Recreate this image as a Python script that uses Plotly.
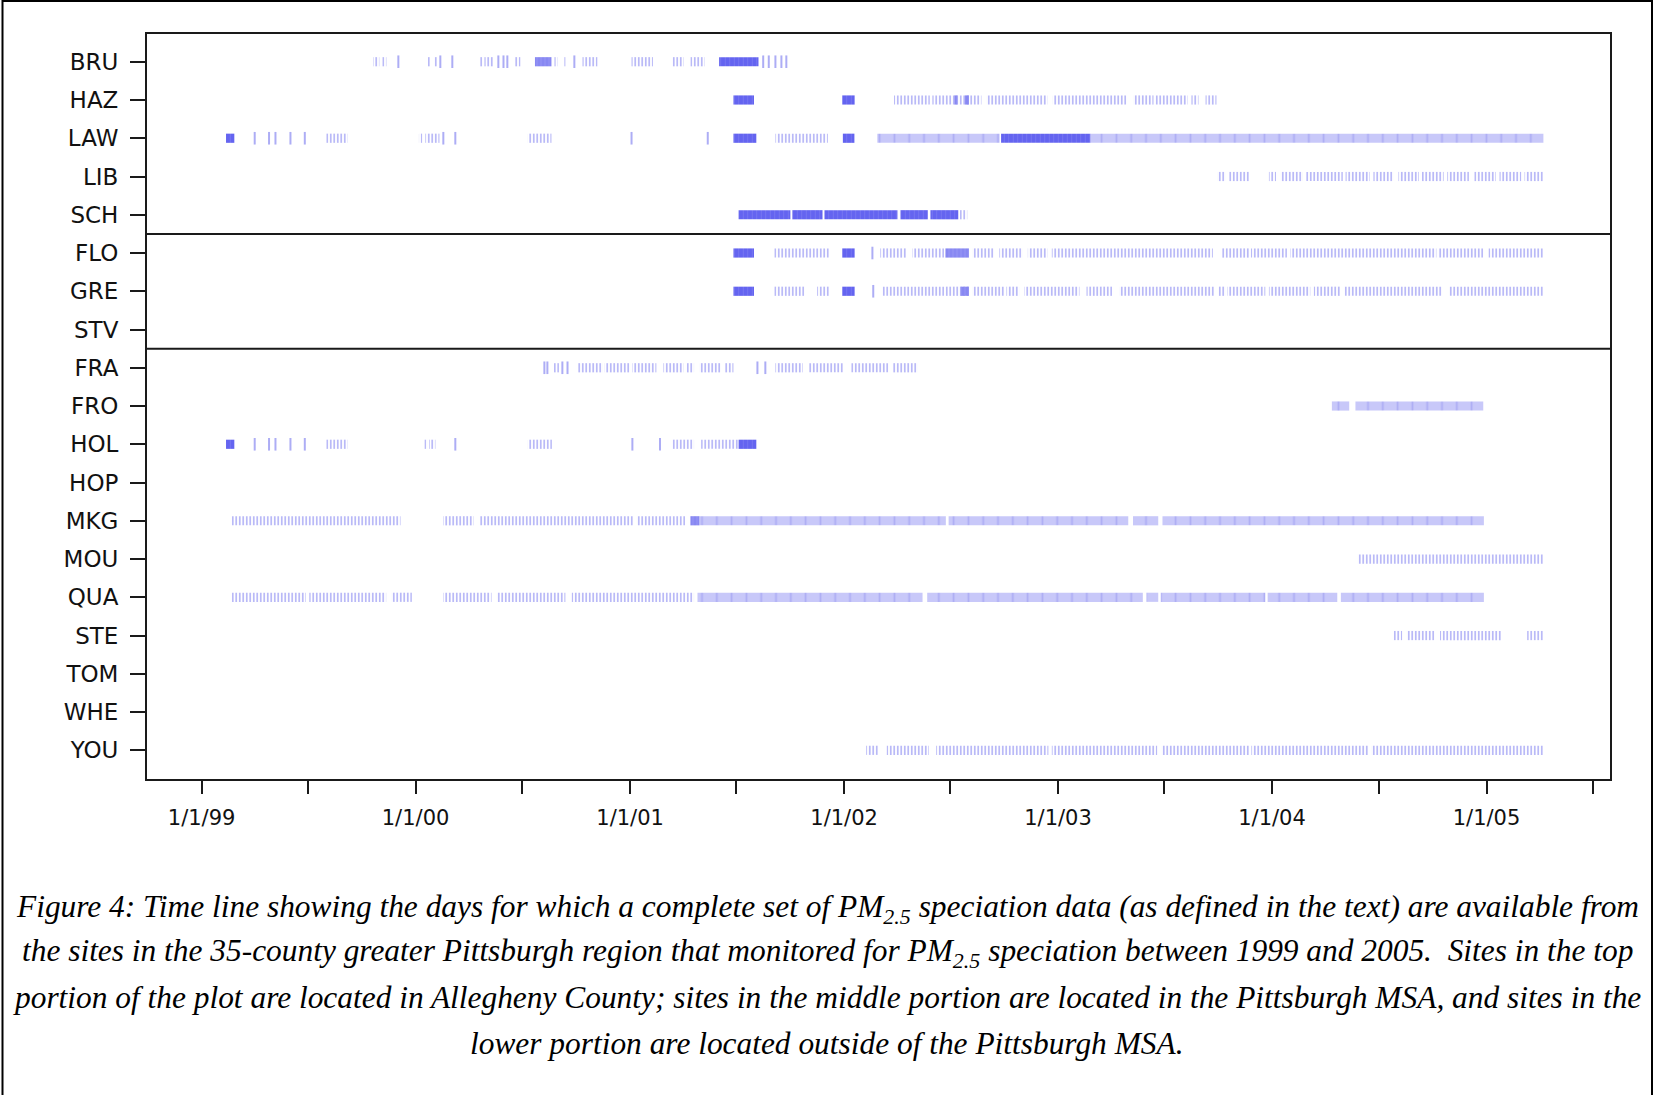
import pandas as pd
import plotly.graph_objects as go

# ---------------- data (dates as decimal years) ----------------
SITES = ["BRU", "HAZ", "LAW", "LIB", "SCH", "FLO", "GRE", "STV", "FRA", "FRO",
         "HOL", "HOP", "MKG", "MOU", "QUA", "STE", "TOM", "WHE", "YOU"]

# segments: (start, end, kind)  kind: S = sparse ticks, B = dense band, M = medium, D = dense/dark
BRU_SEG = [(1999.802, 1999.830, "S"), (1999.844, 1999.863, "S"),
           (2000.059, 2000.068, "S"), (2000.087, 2000.104, "S"),
           (2000.296, 2000.312, "S"), (2000.321, 2000.363, "S"),
           (2000.461, 2000.489, "S"),
           (2000.557, 2000.634, "M"), (2000.648, 2000.662, "S"), (2000.690, 2000.699, "S"),
           (2000.779, 2000.849, "S"),
           (2001.008, 2001.108, "S"),
           (2001.199, 2001.251, "S"), (2001.283, 2001.349, "S"),
           (2001.417, 2001.601, "D")]
BRU_TICKS = [1999.919, 2000.115, 2000.171, 2000.386, 2000.410, 2000.428, 2000.741,
             2001.623, 2001.649, 2001.680, 2001.708, 2001.731]

HAZ_SEG = [(2001.484, 2001.580, "D"), (2001.992, 2002.050, "D"),
           (2002.234, 2002.401, "S"), (2002.413, 2002.642, "S"),
           (2002.516, 2002.530, "M"), (2002.565, 2002.584, "M"),
           (2002.666, 2002.950, "S"), (2002.976, 2003.319, "S"), (2003.352, 2003.446, "S"),
           (2003.455, 2003.605, "S"), (2003.623, 2003.656, "S"), (2003.689, 2003.740, "S")]
HAZ_TICKS = []

LAW_SEG = [(1999.114, 1999.153, "D"),
           (1999.582, 1999.681, "S"),
           (2000.015, 2000.030, "S"), (2000.045, 2000.111, "S"),
           (2000.524, 2000.634, "S"),
           (2001.484, 2001.591, "D"),
           (2001.680, 2001.925, "S"),
           (2001.995, 2002.049, "D"),
           (2002.156, 2002.727, "B"),
           (2002.734, 2003.151, "D"),
           (2003.151, 2005.267, "B")]
LAW_TICKS = [1999.248, 1999.315, 1999.345, 1999.415, 1999.482, 2000.129, 2000.185,
             2001.008, 2001.364]

LIB_SEG = [(2003.744, 2003.782, "S"), (2003.799, 2003.892, "S"), (2003.985, 2004.018, "S"),
           (2004.040, 2004.144, "S"), (2004.158, 2004.330, "S"), (2004.343, 2004.456, "S"),
           (2004.473, 2004.565, "S"), (2004.590, 2004.686, "S"), (2004.700, 2004.801, "S"),
           (2004.818, 2004.919, "S"), (2004.944, 2005.045, "S"), (2005.062, 2005.163, "S"),
           (2005.179, 2005.269, "S")]
LIB_TICKS = []

SCH_SEG = [(2001.508, 2001.750, "D"), (2001.759, 2001.900, "D"), (2001.909, 2002.250, "D"),
           (2002.264, 2002.392, "D"), (2002.404, 2002.534, "D"), (2002.542, 2002.576, "S")]
SCH_TICKS = []

FLO_SEG = [(2001.484, 2001.580, "D"), (2001.675, 2001.930, "S"), (2001.992, 2002.050, "D"),
           (2002.170, 2002.292, "S"), (2002.320, 2002.468, "S"), (2002.474, 2002.584, "M"),
           (2002.600, 2002.701, "S"), (2002.726, 2002.834, "S"), (2002.859, 2002.950, "S"),
           (2002.971, 2003.723, "S"), (2003.766, 2003.892, "S"), (2003.901, 2004.069, "S"),
           (2004.085, 2004.767, "S"), (2004.775, 2004.986, "S"), (2005.011, 2005.269, "S")]
FLO_TICKS = [2002.133]

GRE_SEG = [(2001.484, 2001.580, "D"), (2001.675, 2001.815, "S"), (2001.875, 2001.930, "S"),
           (2001.992, 2002.050, "D"),
           (2002.180, 2002.468, "S"), (2002.474, 2002.584, "S"), (2002.545, 2002.584, "M"),
           (2002.600, 2002.750, "S"), (2002.759, 2002.818, "S"), (2002.843, 2003.100, "S"),
           (2003.133, 2003.252, "S"), (2003.286, 2003.732, "S"), (2003.749, 2003.782, "S"),
           (2003.791, 2003.968, "S"), (2003.985, 2004.178, "S"), (2004.195, 2004.321, "S"),
           (2004.338, 2004.793, "S"), (2004.826, 2005.269, "S")]
GRE_TICKS = [2002.137]

STV_SEG, STV_TICKS = [], []

FRA_SEG = [(2000.646, 2000.669, "S"),
           (2000.758, 2000.874, "S"), (2000.883, 2000.999, "S"), (2001.012, 2001.124, "S"),
           (2001.157, 2001.250, "S"), (2001.266, 2001.300, "S"), (2001.325, 2001.425, "S"),
           (2001.442, 2001.484, "S"),
           (2001.680, 2001.808, "S"), (2001.834, 2002.000, "S"), (2002.034, 2002.208, "S"),
           (2002.227, 2002.343, "S")]
FRA_TICKS = [2000.601, 2000.615, 2000.685, 2000.709, 2001.596, 2001.633]

FRO_SEG = [(2004.279, 2004.360, "B"), (2004.389, 2004.986, "B")]
FRO_TICKS = []

HOL_SEG = [(1999.114, 1999.153, "D"),
           (1999.582, 1999.681, "S"),
           (2000.041, 2000.055, "S"), (2000.062, 2000.092, "S"),
           (2000.524, 2000.636, "S"),
           (2001.199, 2001.300, "S"), (2001.333, 2001.508, "S"),
           (2001.508, 2001.591, "D")]
HOL_TICKS = [1999.248, 1999.315, 1999.345, 1999.415, 1999.482, 2000.185, 2001.012, 2001.141]

HOP_SEG, HOP_TICKS = [], []

MKG_SEG = [(1999.141, 1999.929, "S"), (2000.129, 2000.270, "S"), (2000.296, 2001.016, "S"),
           (2001.033, 2001.258, "S"), (2001.283, 2001.325, "M"), (2001.325, 2002.476, "B"),
           (2002.489, 2003.328, "B"), (2003.350, 2003.468, "B"), (2003.488, 2004.989, "B")]
MKG_TICKS = []

MOU_SEG = [(2004.400, 2005.269, "S")]
MOU_TICKS = []

QUA_SEG = [(1999.141, 1999.487, "S"), (1999.503, 1999.862, "S"), (1999.887, 1999.982, "S"),
           (2000.129, 2000.354, "S"), (2000.379, 2000.699, "S"), (2000.729, 2001.300, "S"),
           (2001.316, 2002.367, "B"), (2002.389, 2003.396, "B"), (2003.413, 2003.468, "B"),
           (2003.480, 2003.968, "B"), (2003.979, 2004.304, "B"), (2004.321, 2004.989, "B")]
QUA_TICKS = []

STE_SEG = [(2004.568, 2004.607, "S"), (2004.629, 2004.758, "S"), (2004.784, 2005.073, "S"),
           (2005.191, 2005.269, "S")]
STE_TICKS = []

TOM_SEG, TOM_TICKS = [], []
WHE_SEG, WHE_TICKS = [], []

YOU_SEG = [(2002.104, 2002.159, "S"), (2002.200, 2002.397, "S"), (2002.431, 2002.955, "S"),
           (2002.971, 2003.463, "S"), (2003.485, 2003.892, "S"), (2003.903, 2004.451, "S"),
           (2004.464, 2005.269, "S")]
YOU_TICKS = []

SEGMENTS = {"BRU": BRU_SEG, "HAZ": HAZ_SEG, "LAW": LAW_SEG, "LIB": LIB_SEG, "SCH": SCH_SEG,
            "FLO": FLO_SEG, "GRE": GRE_SEG, "STV": STV_SEG, "FRA": FRA_SEG, "FRO": FRO_SEG,
            "HOL": HOL_SEG, "HOP": HOP_SEG, "MKG": MKG_SEG, "MOU": MOU_SEG, "QUA": QUA_SEG,
            "STE": STE_SEG, "TOM": TOM_SEG, "WHE": WHE_SEG, "YOU": YOU_SEG}
TICKS = {"BRU": BRU_TICKS, "HAZ": HAZ_TICKS, "LAW": LAW_TICKS, "LIB": LIB_TICKS, "SCH": SCH_TICKS,
         "FLO": FLO_TICKS, "GRE": GRE_TICKS, "STV": STV_TICKS, "FRA": FRA_TICKS, "FRO": FRO_TICKS,
         "HOL": HOL_TICKS, "HOP": HOP_TICKS, "MKG": MKG_TICKS, "MOU": MOU_TICKS, "QUA": QUA_TICKS,
         "STE": STE_TICKS, "TOM": TOM_TICKS, "WHE": WHE_TICKS, "YOU": YOU_TICKS}

TICK_DATES = ["1999-01-01", "2000-01-01", "2001-01-01", "2002-01-01", "2003-01-01",
              "2004-01-01", "2005-01-01"]
TICK_TEXT = ["1/1/99", "1/1/00", "1/1/01", "1/1/02", "1/1/03", "1/1/04", "1/1/05"]
X_RANGE = [1998.745, 2005.578]
GROUP_BREAKS = [4.5, 7.5]

CAPTION = [
    "Figure 4: Time line showing the days for which a complete set of PM<sub>2.5</sub> speciation data (as defined in the text) are available from",
    "the sites in the 35-county greater Pittsburgh region that monitored for PM<sub>2.5</sub> speciation between 1999 and 2005.  Sites in the top",
    "portion of the plot are located in Allegheny County; sites in the middle portion are located in the Pittsburgh MSA, and sites in the",
    "lower portion are located outside of the Pittsburgh MSA.",
]

# ---------------- helpers ----------------
ORIGIN = pd.Timestamp("1999-01-01")


def to_ts(yr):
    return ORIGIN + pd.Timedelta(days=(yr - 1999.0) * 365.25)


# ---------------- geometry ----------------
W, H = 1655, 1095
ML, MR, MT, MB = 147, 45, 34, 316
PW, PH = W - ML - MR, H - MT - MB


def px_x(x):
    return (x - ML) / PW


def px_y(y):
    return (MT + PH - y) / PH


STYLE = {
    "B": dict(color="#c8c8f9", pattern=dict(shape="|", size=14.8, solidity=0.12,
                                             fgcolor="#9292f0", fillmode="overlay")),
    "S": dict(color="#b2b2f6", pattern=dict(shape="|", size=3.5, solidity=0.45,
                                             fillmode="replace")),
    "M": dict(color="#8888f2", pattern=dict(shape="|", size=4, solidity=0.2,
                                             fgcolor="#a8a8f6", fillmode="overlay")),
    "D": dict(color="#6464f0", pattern=dict(shape="|", size=4.5, solidity=0.18,
                                             fgcolor="#8e8ef3", fillmode="overlay")),
}

fig = go.Figure()
for kind in ["B", "S", "M", "D"]:
    ys, bases, durs = [], [], []
    for i, site in enumerate(SITES):
        for (a, b, k) in SEGMENTS[site]:
            if k != kind:
                continue
            ta, tb = to_ts(a), to_ts(b)
            ys.append(i)
            bases.append(ta.isoformat())
            durs.append((tb - ta).total_seconds() * 1000.0)
    if not ys:
        continue
    mk = dict(STYLE[kind])
    mk["line"] = dict(width=0)
    fig.add_trace(go.Bar(y=ys, x=durs, base=bases, orientation="h", width=0.24,
                         marker=mk, hoverinfo="skip", showlegend=False))

tx, ty = [], []
for i, site in enumerate(SITES):
    for d in TICKS[site]:
        tx.append(to_ts(d).isoformat())
        ty.append(i)
fig.add_trace(go.Scatter(x=tx, y=ty, mode="markers", hoverinfo="skip", showlegend=False,
                         marker=dict(symbol="line-ns", size=9,
                                     line=dict(width=2, color="#adadf5"))))

AX = "#1a1a1a"
fig.update_layout(
    width=W, height=H, margin=dict(l=ML, r=MR, t=MT, b=MB),
    paper_bgcolor="white", plot_bgcolor="white", barmode="overlay", showlegend=False,
    xaxis=dict(type="date", range=[to_ts(X_RANGE[0]).isoformat(), to_ts(X_RANGE[1]).isoformat()],
               tickmode="array", tickvals=TICK_DATES, ticktext=TICK_TEXT,
               ticks="outside", ticklen=13, tickwidth=2, tickcolor=AX,
               minor=dict(dtick="M6", tick0="1999-01-01", ticks="outside", ticklen=13,
                          tickwidth=2, tickcolor=AX, showgrid=False),
               showline=True, mirror=True, linecolor=AX, linewidth=2,
               showgrid=False, zeroline=False, ticklabelstandoff=6,
               tickfont=dict(family="DejaVu Sans", size=21, color="#111")),
    yaxis=dict(range=[18.75, -0.725], tickmode="array", tickvals=list(range(len(SITES))),
               ticktext=SITES, ticks="outside", ticklen=15, tickwidth=2, tickcolor=AX,
               showline=True, mirror=True, linecolor=AX, linewidth=2,
               showgrid=False, zeroline=False, ticklabelstandoff=7,
               tickfont=dict(family="DejaVu Sans", size=23, color="#111")),
)

for yb in GROUP_BREAKS:
    fig.add_shape(type="line", xref="paper", x0=0, x1=1, yref="y", y0=yb, y1=yb,
                  line=dict(color=AX, width=2))

# outer frame of the figure
fig.add_shape(type="rect", xref="paper", yref="paper",
              x0=px_x(2.5), x1=px_x(1652), y0=px_y(1110), y1=px_y(1),
              line=dict(color="black", width=2), fillcolor="rgba(0,0,0,0)")

CAP_Y = [909, 953.3, 997.6, 1043]
for line, yy in zip(CAPTION, CAP_Y):
    fig.add_annotation(text=line, xref="paper", yref="paper", x=px_x(827), y=px_y(yy),
                       xanchor="center", yanchor="middle", showarrow=False,
                       font=dict(family="Liberation Serif", size=31.4, color="black",
                                 style="italic"))

fig.write_html("out.html")
